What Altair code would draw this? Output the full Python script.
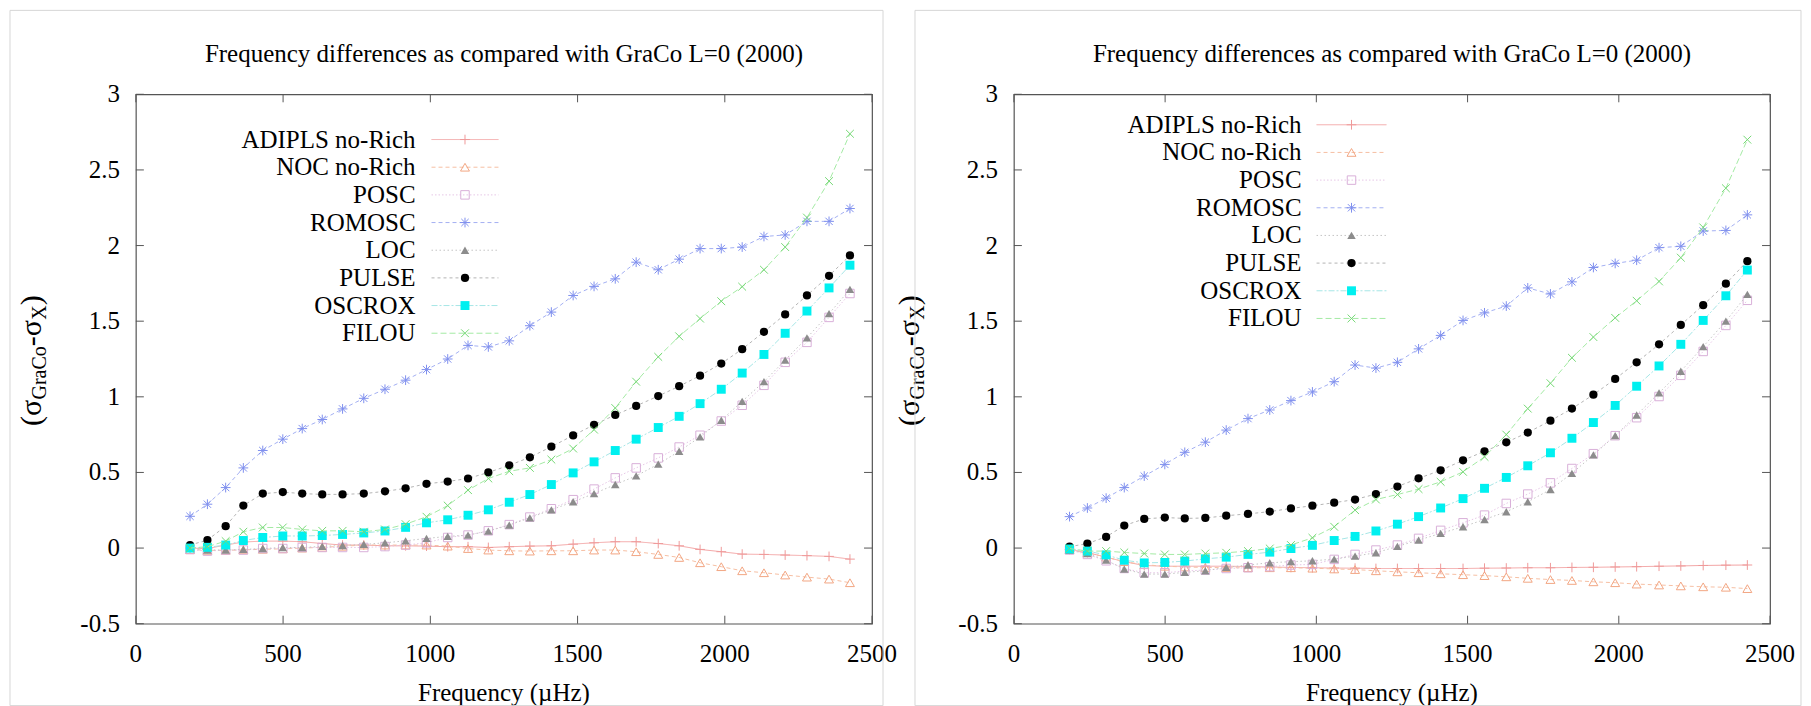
import altair as alt
import pandas as pd

FREQ = [184, 243, 305, 365, 431, 499, 565, 633, 702, 774, 846, 916, 987, 1059, 1128,
        1197, 1268, 1338, 1411, 1485, 1556, 1628, 1699, 1774, 1845, 1916, 1988, 2059,
        2133, 2205, 2279, 2354, 2425]

SERIES = ["ADIPLS no-Rich", "NOC no-Rich", "POSC", "ROMOSC", "LOC", "PULSE", "OSCROX", "FILOU"]

# ---- left panel values ----
ADIPLS_L = [0.0, -0.003, 0.02, 0.04, 0.046, 0.046, 0.042, 0.03, 0.02, 0.02, 0.015, 0.015,
            0.013, 0.009, 0.009, 0.004, 0.009, 0.013, 0.015, 0.026, 0.035, 0.042, 0.042,
            0.03, 0.015, -0.009, -0.024, -0.04, -0.042, -0.046, -0.05, -0.055, -0.073]
NOC_L = [-0.01, -0.015, -0.015, -0.012, -0.008, -0.005, 0.0, 0.005, 0.012, 0.02, 0.02,
         0.02, 0.02, 0.013, -0.003, -0.013, -0.018, -0.02, -0.018, -0.018, -0.013, -0.013,
         -0.024, -0.042, -0.062, -0.097, -0.123, -0.15, -0.163, -0.178, -0.192, -0.205, -0.229]
POSC_L = [-0.01, -0.02, -0.013, -0.013, -0.003, -0.003, 0.004, 0.004, 0.004, 0.004, 0.01,
          0.02, 0.035, 0.07, 0.086, 0.114, 0.155, 0.205, 0.26, 0.32, 0.39, 0.464, 0.53,
          0.596, 0.668, 0.746, 0.84, 0.944, 1.076, 1.228, 1.36, 1.525, 1.683]
ROMOSC_L = [0.21, 0.29, 0.40, 0.53, 0.645, 0.72, 0.79, 0.85, 0.92, 0.99, 1.05, 1.11, 1.18,
            1.25, 1.34, 1.33, 1.37, 1.47, 1.56, 1.67, 1.73, 1.78, 1.89, 1.84, 1.91, 1.98,
            1.98, 1.99, 2.06, 2.07, 2.16, 2.16, 2.245]
LOC_L = [0.0, -0.013, -0.013, -0.009, -0.003, 0.004, 0.004, 0.011, 0.017, 0.024, 0.035,
         0.048, 0.064, 0.077, 0.086, 0.112, 0.152, 0.20, 0.253, 0.306, 0.36, 0.42, 0.477,
         0.555, 0.64, 0.735, 0.845, 0.97, 1.10, 1.243, 1.39, 1.55, 1.71]
PULSE_L = [0.02, 0.053, 0.145, 0.281, 0.36, 0.37, 0.36, 0.355, 0.355, 0.36, 0.375, 0.395,
           0.425, 0.44, 0.46, 0.50, 0.547, 0.60, 0.67, 0.745, 0.815, 0.88, 0.94, 1.005,
           1.07, 1.14, 1.22, 1.315, 1.43, 1.545, 1.67, 1.80, 1.935]
OSCROX_L = [0.0, 0.005, 0.02, 0.05, 0.07, 0.08, 0.08, 0.083, 0.09, 0.10, 0.113, 0.137,
            0.167, 0.187, 0.217, 0.253, 0.303, 0.354, 0.42, 0.497, 0.57, 0.645, 0.72,
            0.797, 0.871, 0.955, 1.05, 1.157, 1.28, 1.42, 1.567, 1.72, 1.87]
FILOU_L = [0.0, 0.009, 0.046, 0.108, 0.136, 0.136, 0.123, 0.114, 0.114, 0.108, 0.123,
           0.158, 0.207, 0.281, 0.383, 0.46, 0.508, 0.53, 0.585, 0.658, 0.783, 0.926,
           1.10, 1.264, 1.40, 1.517, 1.632, 1.728, 1.84, 1.99, 2.185, 2.426, 2.739]

# ---- right panel values ----
ADIPLS_R = [-0.01, -0.03, -0.06, -0.09, -0.115, -0.12, -0.12, -0.12, -0.12, -0.122,
            -0.125, -0.128, -0.13, -0.132, -0.133, -0.135, -0.135, -0.135, -0.135, -0.135,
            -0.133, -0.132, -0.13, -0.13, -0.128, -0.127, -0.125, -0.123, -0.12, -0.118,
            -0.115, -0.113, -0.112]
NOC_R = [-0.01, -0.03, -0.06, -0.09, -0.11, -0.12, -0.125, -0.128, -0.13, -0.13, -0.13,
         -0.13, -0.133, -0.138, -0.142, -0.15, -0.157, -0.163, -0.17, -0.176, -0.182,
         -0.19, -0.2, -0.208, -0.214, -0.223, -0.229, -0.238, -0.244, -0.25, -0.256,
         -0.259, -0.268]
POSC_R = [-0.013, -0.042, -0.084, -0.135, -0.163, -0.163, -0.152, -0.145, -0.135, -0.13,
          -0.123, -0.112, -0.108, -0.075, -0.042, -0.013, 0.02, 0.064, 0.117, 0.167,
          0.218, 0.295, 0.357, 0.431, 0.526, 0.624, 0.743, 0.862, 1.002, 1.142, 1.30,
          1.472, 1.638]
ROMOSC_R = [0.208, 0.265, 0.33, 0.40, 0.476, 0.553, 0.633, 0.70, 0.78, 0.856, 0.913,
            0.975, 1.032, 1.10, 1.21, 1.19, 1.228, 1.317, 1.406, 1.505, 1.555, 1.60, 1.72,
            1.68, 1.76, 1.855, 1.882, 1.903, 1.986, 1.995, 2.096, 2.10, 2.203]
LOC_R = [-0.013, -0.036, -0.08, -0.139, -0.172, -0.172, -0.161, -0.15, -0.128, -0.112,
         -0.097, -0.09, -0.084, -0.073, -0.053, -0.031, 0.011, 0.053, 0.097, 0.141, 0.189,
         0.24, 0.306, 0.387, 0.494, 0.616, 0.743, 0.88, 1.026, 1.169, 1.332, 1.50, 1.677]
PULSE_R = [0.009, 0.03, 0.074, 0.149, 0.193, 0.202, 0.196, 0.199, 0.214, 0.226, 0.241,
           0.262, 0.28, 0.30, 0.321, 0.357, 0.407, 0.461, 0.514, 0.58, 0.64, 0.699, 0.764,
           0.842, 0.922, 1.014, 1.118, 1.228, 1.347, 1.475, 1.606, 1.748, 1.897]
OSCROX_R = [-0.006, -0.02, -0.045, -0.08, -0.098, -0.095, -0.086, -0.071, -0.06, -0.042,
            -0.027, -0.003, 0.018, 0.05, 0.077, 0.113, 0.158, 0.208, 0.265, 0.327, 0.395,
            0.467, 0.544, 0.63, 0.726, 0.83, 0.943, 1.07, 1.204, 1.347, 1.505, 1.668, 1.838]
FILOU_R = [-0.003, -0.02, -0.02, -0.029, -0.036, -0.042, -0.042, -0.036, -0.031, -0.02,
           -0.003, 0.02, 0.068, 0.141, 0.251, 0.321, 0.354, 0.39, 0.438, 0.504, 0.603,
           0.75, 0.922, 1.09, 1.258, 1.395, 1.522, 1.635, 1.763, 1.92, 2.12, 2.379, 2.70]

LEFT = [ADIPLS_L, NOC_L, POSC_L, ROMOSC_L, LOC_L, PULSE_L, OSCROX_L, FILOU_L]
RIGHT = [ADIPLS_R, NOC_R, POSC_R, ROMOSC_R, LOC_R, PULSE_R, OSCROX_R, FILOU_R]

TITLE = "Frequency differences as compared with GraCo L=0 (2000)"
X_TITLE = "Frequency (\u00b5Hz)"
X_TICKS = [0, 500, 1000, 1500, 2000, 2500]
X_LABELS = ["0", "500", "1000", "1500", "2000", "2500"]
Y_TICKS = [-0.5, 0, 0.5, 1, 1.5, 2, 2.5, 3]
Y_LABELS = ["-0.5", "0", "0.5", "1", "1.5", "2", "2.5", "3"]

FONT = "Liberation Serif"
FRAME = "#555555"

PLUS = "M-1,0L1,0M0,-1L0,1"
CROSS = "M-0.8,-0.8L0.8,0.8M-0.8,0.8L0.8,-0.8"
STAR = "M-1,0L1,0M0,-1L0,1M-0.75,-0.75L0.75,0.75M-0.75,0.75L0.75,-0.75"

STYLES = [
    dict(line="#f2a2a2", dash=[1, 0], shape=PLUS, mcolor="#ef9a9a", filled=False, size=95),
    dict(line="#f6bfa3", dash=[4, 3], shape="triangle-up", mcolor="#f2a683", filled=False, size=80),
    dict(line="#e6c6e6", dash=[1.5, 2], shape="square", mcolor="#d9b0d9", filled=False, size=72),
    dict(line="#a4b0f2", dash=[4, 3], shape=STAR, mcolor="#8090ee", filled=False, size=95),
    dict(line="#c4c4c4", dash=[1.5, 2.5], shape="triangle-up", mcolor="#8c8c8c", filled=True, size=72),
    dict(line="#b4b4b4", dash=[3, 3], shape="circle", mcolor="#000000", filled=True, size=68),
    dict(line="#a6e6e6", dash=[6, 2, 2, 2], shape="square", mcolor="#00f0f0", filled=True, size=80),
    dict(line="#a4eaa4", dash=[6, 3], shape=CROSS, mcolor="#74d874", filled=False, size=95),
]


def one():
    return pd.DataFrame({"a": [0]})


def panel(vals, W, H, leg_range, leg_tx, leg_l0, leg_l1, rect_x, rect_x2):
    xs = alt.Scale(domain=[0, 2500], nice=False, zero=False)
    ys = alt.Scale(domain=[-0.5, 3], nice=False, zero=False)
    tx = pd.DataFrame({"v": X_TICKS, "lab": X_LABELS})
    ty = pd.DataFrame({"v": Y_TICKS, "lab": Y_LABELS})
    X = alt.X("v:Q", scale=xs, axis=None)
    Y = alt.Y("v:Q", scale=ys, axis=None)
    layers = [
        # inward ticks on all four sides
        alt.Chart(tx).mark_rule(color=FRAME).encode(x=X, y=alt.value(H - 8), y2=alt.value(H)),
        alt.Chart(tx).mark_rule(color=FRAME).encode(x=X, y=alt.value(0), y2=alt.value(8)),
        alt.Chart(ty).mark_rule(color=FRAME).encode(y=Y, x=alt.value(0), x2=alt.value(8)),
        alt.Chart(ty).mark_rule(color=FRAME).encode(y=Y, x=alt.value(W - 8), x2=alt.value(W)),
        # tick labels
        alt.Chart(tx).mark_text(font=FONT, fontSize=25, color="black", align="center",
                                baseline="top").encode(x=X, y=alt.value(H + 18), text="lab:N"),
        alt.Chart(ty).mark_text(font=FONT, fontSize=25, color="black", align="right",
                                baseline="middle").encode(y=Y, x=alt.value(-16), text="lab:N"),
    ]
    for name, v, st in zip(SERIES, vals, STYLES):
        df = pd.DataFrame({"freq": FREQ, "val": v, "series": name})
        enc = dict(x=alt.X("freq:Q", scale=xs, axis=None),
                   y=alt.Y("val:Q", scale=ys, axis=None))
        layers.append(alt.Chart(df).mark_line(color=st["line"], strokeDash=st["dash"],
                                              strokeWidth=1).encode(**enc))
        layers.append(alt.Chart(df).mark_point(shape=st["shape"], size=st["size"],
                                               filled=st["filled"], color=st["mcolor"],
                                               strokeWidth=1, opacity=1).encode(**enc))
    # titles
    layers.append(alt.Chart(one()).mark_text(font=FONT, fontSize=25, color="black",
                                             align="center", baseline="middle",
                                             text=TITLE).encode(
        x=alt.value(W / 2), y=alt.value(-40)))
    layers.append(alt.Chart(one()).mark_text(font=FONT, fontSize=25, color="black",
                                             align="center", baseline="middle",
                                             text=X_TITLE).encode(
        x=alt.value(W / 2), y=alt.value(H + 69)))
    # y title with subscripts (rotated, reading upwards)
    segs = [("(\u03c3", 30, 0, 332.0), ("GraCo", 20, 5, 305.5), ("-\u03c3", 30, 0, 252.2),
            ("X", 20, 5, 225.7), (")", 30, 0, 211.3)]
    for txt, fs, shift, ypos in segs:
        layers.append(alt.Chart(one()).mark_text(font=FONT, fontSize=fs, color="black",
                                                 align="left", baseline="alphabetic",
                                                 angle=270, text=txt).encode(
            x=alt.value(-95 + shift), y=alt.value(ypos)))
    # light image border
    layers.append(alt.Chart(one()).mark_rect(fill="transparent", stroke="#d6d6d6",
                                             strokeWidth=1).encode(
        x=alt.value(rect_x), x2=alt.value(rect_x2), y=alt.value(-84), y2=alt.value(612)))

    lscale = alt.Scale(type="point", domain=SERIES, range=leg_range, padding=0)
    leg = []
    for name, st in zip(SERIES, STYLES):
        ld = pd.DataFrame({"name": [name]})
        yy = alt.Y("name:N", scale=lscale, axis=None)
        leg.append(alt.Chart(ld).mark_text(font=FONT, fontSize=25, color="black",
                                           align="right", baseline="middle").encode(
            x=alt.value(leg_tx), y=yy, text="name:N"))
        leg.append(alt.Chart(ld).mark_rule(color=st["line"], strokeDash=st["dash"],
                                           strokeWidth=1).encode(
            x=alt.value(leg_l0), x2=alt.value(leg_l1), y=yy))
        leg.append(alt.Chart(ld).mark_point(shape=st["shape"], size=st["size"],
                                            filled=st["filled"], color=st["mcolor"],
                                            strokeWidth=1, opacity=1).encode(
            x=alt.value((leg_l0 + leg_l1) / 2), y=yy))
    return alt.layer(alt.layer(*layers), alt.layer(*leg)).resolve_scale(
        y="independent").properties(width=W, height=H)


left = panel(LEFT, 737, 530, [45.3, 239.2], 280, 296, 363, -126, 748)
right = panel(RIGHT, 757, 530, [30.5, 224.4], 288, 303, 373, -99, 788)

chart = alt.hconcat(left, right, spacing=142, bounds="flush").properties(
    padding=0).configure_view(stroke=FRAME, strokeWidth=1.2)

chart.save("out.html", embed_options={"renderer": "svg", "actions": False})
